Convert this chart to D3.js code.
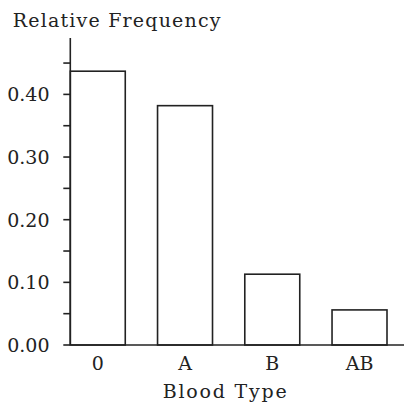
<!DOCTYPE html>
<html>
<head>
<meta charset="utf-8">
<script src="https://cdn.jsdelivr.net/npm/d3@7"></script>
<style>
body{margin:0;background:#fff;}
text{font-family:"DejaVu Serif", serif;fill:#222;}
</style>
</head>
<body>
<svg id="Chart" width="404" height="406"></svg>
<script>
var types = ["0", "A", "B", "AB"];
var freqs = [0.437, 0.382, 0.113, 0.056];
var tickVals = [0, 0.05, 0.10, 0.15, 0.20, 0.25, 0.30, 0.35, 0.40, 0.45];
var tickLabels = ["0.00", "0.10", "0.20", "0.30", "0.40"];

var svg = d3.select("#Chart");
var left = 70.3, base = 345, axisTop = 38;

var y = d3.scaleLinear().domain([0, 0.49]).range([base, axisTop]);
var x = d3.scaleBand().domain(types).range([left, 387]).paddingInner(0.37).paddingOuter(0);

// y axis
svg.append("line")
	.attr("x1", left).attr("x2", left)
	.attr("y1", base).attr("y2", axisTop)
	.attr("stroke", "#222").attr("stroke-width", 1.6);

svg.selectAll(".ytick").data(tickVals).enter()
	.append("line")
	.attr("x1", left - 7).attr("x2", left)
	.attr("y1", function(d){ return y(d); })
	.attr("y2", function(d){ return y(d); })
	.attr("stroke", "#222").attr("stroke-width", 1.6);

svg.selectAll(".ylab").data(tickLabels).enter()
	.append("text")
	.attr("x", 49.5)
	.attr("y", function(d){ return y(+d) + 7; })
	.attr("text-anchor", "end")
	.style("font-size", "19px")
	.text(function(d){ return d; });

// bars
svg.selectAll(".bar").data(freqs).enter()
	.append("rect")
	.attr("x", function(d, i){ return x(types[i]); })
	.attr("y", function(d){ return y(d); })
	.attr("width", x.bandwidth())
	.attr("height", function(d){ return base - y(d); })
	.attr("fill", "none")
	.attr("stroke", "#222").attr("stroke-width", 1.6);

// x axis
svg.append("line")
	.attr("x1", left).attr("x2", 404)
	.attr("y1", base).attr("y2", base)
	.attr("stroke", "#222").attr("stroke-width", 1.6);

svg.selectAll(".xlab").data(types).enter()
	.append("text")
	.attr("x", function(d){ return x(d) + x.bandwidth() / 2; })
	.attr("y", 369.5)
	.attr("text-anchor", "middle")
	.style("font-size", "19px")
	.text(function(d){ return d; });

svg.append("text")
	.attr("x", 12.7).attr("y", 26.5)
	.style("font-size", "19px")
	.style("letter-spacing", "1.2px")
	.text("Relative Frequency");

svg.append("text")
	.attr("x", 162.7).attr("y", 397.5)
	.style("font-size", "19px")
	.style("letter-spacing", "1.8px")
	.text("Blood Type");
</script>
</body>
</html>
